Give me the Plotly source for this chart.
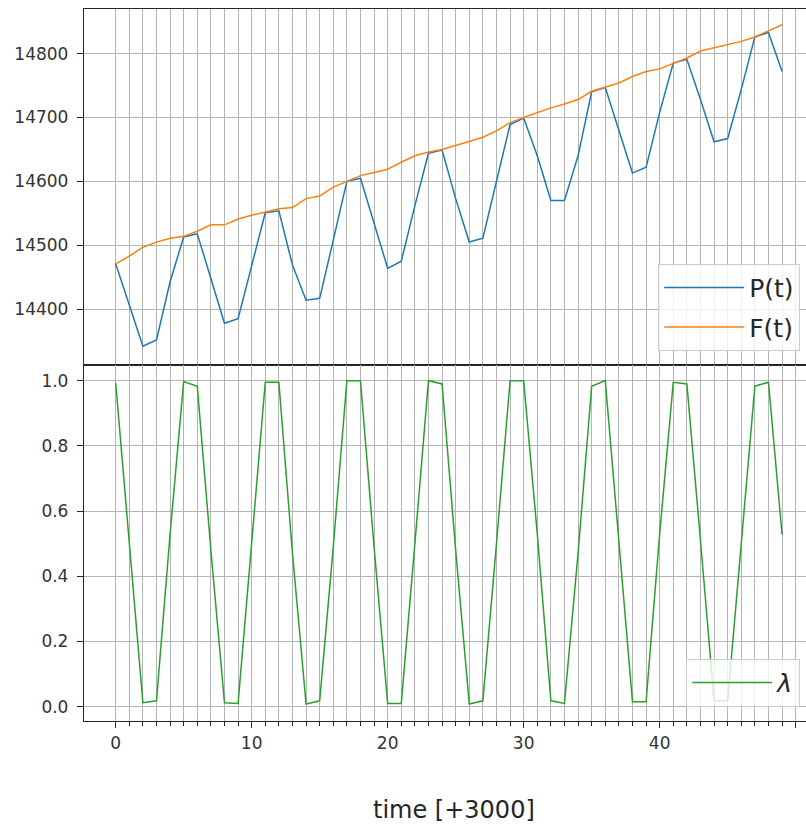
import plotly.graph_objects as go
from plotly.subplots import make_subplots

# ---- data ----
t = list(range(50))  # time offset, label "time [+3000]"

P = [14471, 14406, 14342, 14352, 14443, 14513, 14518, 14448, 14378, 14385,
     14469, 14551, 14554, 14469, 14414, 14417, 14508, 14600, 14605, 14534,
     14464, 14475, 14562, 14644, 14649, 14573, 14505, 14511, 14599, 14689,
     14699, 14640, 14570, 14570, 14640, 14740, 14747, 14679, 14613, 14622,
     14708, 14785, 14791, 14728, 14662, 14667, 14744, 14826, 14833, 14772]

F = [14471, 14483, 14497, 14505, 14511, 14514, 14522, 14532, 14532, 14541,
     14547, 14552, 14557, 14559, 14573, 14577, 14591, 14600, 14609, 14614,
     14619, 14630, 14640, 14646, 14650, 14656, 14662, 14669, 14679, 14692,
     14700, 14708, 14715, 14721, 14728, 14741, 14748, 14754, 14764, 14772,
     14776, 14785, 14793, 14804, 14809, 14814, 14819, 14826, 14835, 14845]

LAM = [0.993, 0.50, 0.012, 0.018, 0.53, 0.997, 0.983, 0.48, 0.012, 0.010,
       0.50, 0.995, 0.995, 0.47, 0.008, 0.018, 0.49, 1.000, 1.000, 0.49,
       0.010, 0.010, 0.50, 1.000, 0.990, 0.48, 0.008, 0.018, 0.50, 1.000,
       1.000, 0.53, 0.018, 0.010, 0.47, 0.983, 1.000, 0.51, 0.015, 0.015,
       0.53, 0.995, 0.990, 0.51, 0.018, 0.018, 0.51, 0.983, 0.995, 0.528]

X_TICKS = [0, 10, 20, 30, 40, 50]
X_MINOR = list(range(0, 51))
Y1_TICKS = [14400, 14500, 14600, 14700, 14800]
Y2_TICKS = [0.0, 0.2, 0.4, 0.6, 0.8, 1.0]

FONT = "DejaVu Sans"
SPINE = "#262626"
GRID = "#b4b4b4"

fig = make_subplots(rows=2, cols=1, shared_xaxes=True, vertical_spacing=0)

fig.add_trace(go.Scatter(x=t, y=P, mode="lines", name="P(t)",
                         line=dict(color="#1f77b4", width=1.5),
                         legend="legend", legendgroup="p"), row=1, col=1)
fig.add_trace(go.Scatter(x=t, y=F, mode="lines", name="F(t)",
                         line=dict(color="#ff7f0e", width=1.5),
                         legend="legend", legendgroup="f"), row=1, col=1)
fig.add_trace(go.Scatter(x=t, y=LAM, mode="lines", name="<i>λ</i>",
                         line=dict(color="#2ca02c", width=1.5),
                         legend="legend2"), row=2, col=1)

xcommon = dict(range=[-2.33, 50.76], showline=True, linecolor=SPINE, linewidth=1.3,
               mirror=True, zeroline=False, showgrid=True, gridcolor=GRID, gridwidth=1)

fig.update_xaxes(**xcommon, tickmode="array", tickvals=X_TICKS, showticklabels=False,
                 ticks="",
                 minor=dict(tickmode="array", tickvals=X_MINOR, showgrid=True,
                            gridcolor=GRID, gridwidth=1, ticks=""),
                 row=1, col=1)
fig.update_xaxes(**xcommon, tickmode="array", tickvals=X_TICKS,
                 ticktext=[str(v) for v in X_TICKS],
                 ticks="outside", ticklen=6, tickwidth=1.3, tickcolor=SPINE,
                 tickfont=dict(family=FONT, size=17, color="#333333"),
                 minor=dict(tickmode="array", tickvals=X_MINOR, showgrid=True,
                            gridcolor=GRID, gridwidth=1, ticks="outside",
                            ticklen=3.5, tickwidth=1, tickcolor=SPINE),
                 row=2, col=1)

ycommon = dict(showline=True, linecolor=SPINE, linewidth=1.3, mirror=False,
               zeroline=False, showgrid=True, gridcolor=GRID, gridwidth=1,
               ticks="outside", ticklen=6, tickwidth=1.3, tickcolor=SPINE,
               tickfont=dict(family=FONT, size=17, color="#333333"),
               ticklabelstandoff=5)
fig.update_yaxes(**ycommon, range=[14312.7, 14869.7], tickvals=Y1_TICKS,
                 ticktext=[str(v) for v in Y1_TICKS], row=1, col=1)
fig.update_yaxes(**ycommon, range=[-0.044, 1.048], tickvals=Y2_TICKS,
                 ticktext=[f"{v:.1f}" for v in Y2_TICKS], row=2, col=1)

legend_style = dict(bgcolor="rgba(255,255,255,0.8)", bordercolor="#cccccc",
                    borderwidth=1, font=dict(family=FONT, size=25, color="#262626"),
                    xanchor="right", yanchor="bottom", itemwidth=80)

fig.update_layout(
    width=806, height=825,
    margin=dict(l=84, r=0, t=9, b=104),
    plot_bgcolor="white", paper_bgcolor="white",
    font=dict(family=FONT, color="#262626"),
    legend=dict(**legend_style, x=0.992, y=0.52, tracegroupgap=4),
    legend2=dict(**legend_style, x=0.992, y=0.02),
    annotations=[dict(text="time [+3000]", xref="paper", yref="paper",
                      x=0.5125, y=-0.125, xanchor="center", yanchor="middle",
                      showarrow=False, font=dict(family=FONT, size=24, color="#262626"))],
)

fig.write_html("out.html")
